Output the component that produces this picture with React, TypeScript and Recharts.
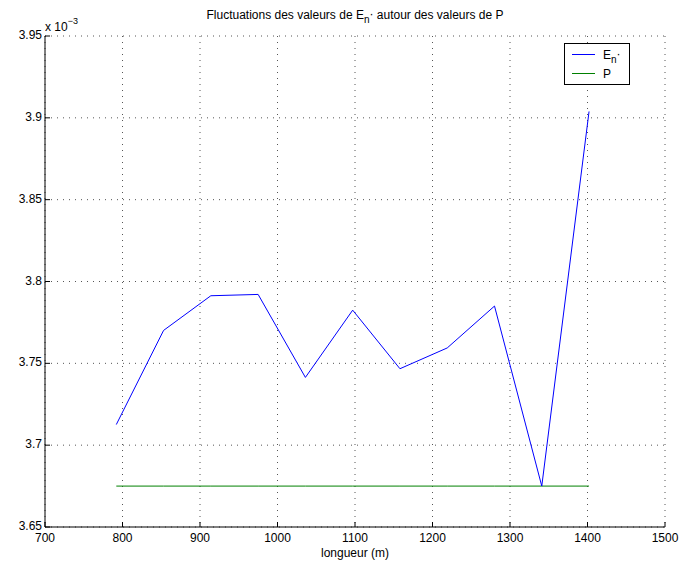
import React from 'react'
import { CartesianGrid, Legend, Line, LineChart, XAxis, YAxis } from 'recharts'

// longueur (m)
const xValues = [792, 853, 914, 975, 1036, 1097, 1158, 1219, 1280, 1341, 1402]
// E_n* en unités de 10^-3
const enValues = [3.7126, 3.7701, 3.7913, 3.7921, 3.7414, 3.7825, 3.7467, 3.7594, 3.785, 3.675, 3.9039]
// P en unités de 10^-3
const pValues = [3.675, 3.675, 3.675, 3.675, 3.675, 3.675, 3.675, 3.675, 3.675, 3.675, 3.675]

const xTicks = [700, 800, 900, 1000, 1100, 1200, 1300, 1400, 1500]
const yTicks = [3.65, 3.7, 3.75, 3.8, 3.85, 3.9, 3.95]

const data = xValues.map((x, i) => ({ x, en: enValues[i], p: pValues[i] }))

const FONT = '"Liberation Sans", Arial, Helvetica, sans-serif'
const FS = 12
const W = 680
const H = 564

const BottomTick = ({ x, y, payload }: any) => (
  <g>
    <line x1={x} y1={y} x2={x} y2={y - 5} stroke="#000" />
    <text x={x} y={y + 15} textAnchor="middle" fontFamily={FONT} fontSize={FS} fill="#000">{payload.value}</text>
  </g>
)
const TopTick = ({ x, y }: any) => <line x1={x} y1={y} x2={x} y2={y + 5} stroke="#000" />
const LeftTick = ({ x, y, payload }: any) => (
  <g>
    <line x1={x} y1={y} x2={x + 5} y2={y} stroke="#000" />
    <text x={x - 3} y={y + 3} textAnchor="end" fontFamily={FONT} fontSize={FS} fill="#000">{String(payload.value)}</text>
  </g>
)
const RightTick = ({ x, y }: any) => <line x1={x} y1={y} x2={x - 5} y2={y} stroke="#000" />

const renderLegend = () => (
  <svg width={66} height={42} style={{ display: 'block' }}>
    <rect x={0.5} y={0.5} width={65} height={41} fill="#fff" stroke="#000" />
    <line x1={8} y1={11.5} x2={31} y2={11.5} stroke="#0000ff" />
    <text x={39} y={16} fontFamily={FONT} fontSize={FS} fill="#000">
      E<tspan fontSize={10} dy={4}>n</tspan><tspan dy={-5}>·</tspan>
    </text>
    <line x1={8} y1={30.5} x2={31} y2={30.5} stroke="#008000" />
    <text x={39} y={35} fontFamily={FONT} fontSize={FS} fill="#000">P</text>
  </svg>
)

export default function App() {
  return (
    <div style={{ position: 'absolute', left: 0, top: 0, width: W, height: H, background: '#fff' }}>
      <LineChart width={W} height={H} data={data} margin={{ top: 36, right: 15, left: 0, bottom: 0 }}>
        <CartesianGrid stroke="#555" strokeDasharray="1 5" />
        <XAxis dataKey="x" type="number" domain={[700, 1500]} ticks={xTicks} interval={0}
          height={37} tickSize={0} tickMargin={0} tickLine={false} stroke="#000" tick={<BottomTick />} />
        <XAxis xAxisId="top" orientation="top" dataKey="x" type="number" domain={[700, 1500]} ticks={xTicks}
          interval={0} height={0} tickSize={0} tickMargin={0} tickLine={false} stroke="#000" tick={<TopTick />} />
        <YAxis type="number" domain={[3.65, 3.95]} ticks={yTicks} interval={0} width={45}
          tickSize={0} tickMargin={0} tickLine={false} stroke="#000" tick={<LeftTick />} />
        <YAxis yAxisId="right" orientation="right" type="number" domain={[3.65, 3.95]} ticks={yTicks}
          interval={0} width={0} tickSize={0} tickMargin={0} tickLine={false} stroke="#000" tick={<RightTick />} />
        <Line dataKey="p" type="linear" stroke="#008000" strokeWidth={1} dot={false} isAnimationActive={false} />
        <Line dataKey="en" type="linear" stroke="#0000ff" strokeWidth={1} dot={false} isAnimationActive={false} />
        <Legend layout="vertical" align="center" verticalAlign="middle" content={renderLegend}
          wrapperStyle={{ left: 564, top: 43, width: 66, height: 42 }} />
      </LineChart>
      <svg width={W} height={H} style={{ position: 'absolute', left: 0, top: 0, pointerEvents: 'none' }}>
        <text x={355} y={19} textAnchor="middle" fontFamily={FONT} fontSize={FS} fill="#000">
          Fluctuations des valeurs de E<tspan fontSize={10} dy={4}>n</tspan><tspan dy={-5}>·</tspan><tspan dy={1}> autour des valeurs de P</tspan>
        </text>
        <text x={45} y={31} fontFamily={FONT} fontSize={FS} fill="#000">
          x 10<tspan fontSize={9} dy={-7}>−3</tspan>
        </text>
        <text x={355} y={557} textAnchor="middle" fontFamily={FONT} fontSize={FS} fill="#000">longueur (m)</text>
      </svg>
    </div>
  )
}
